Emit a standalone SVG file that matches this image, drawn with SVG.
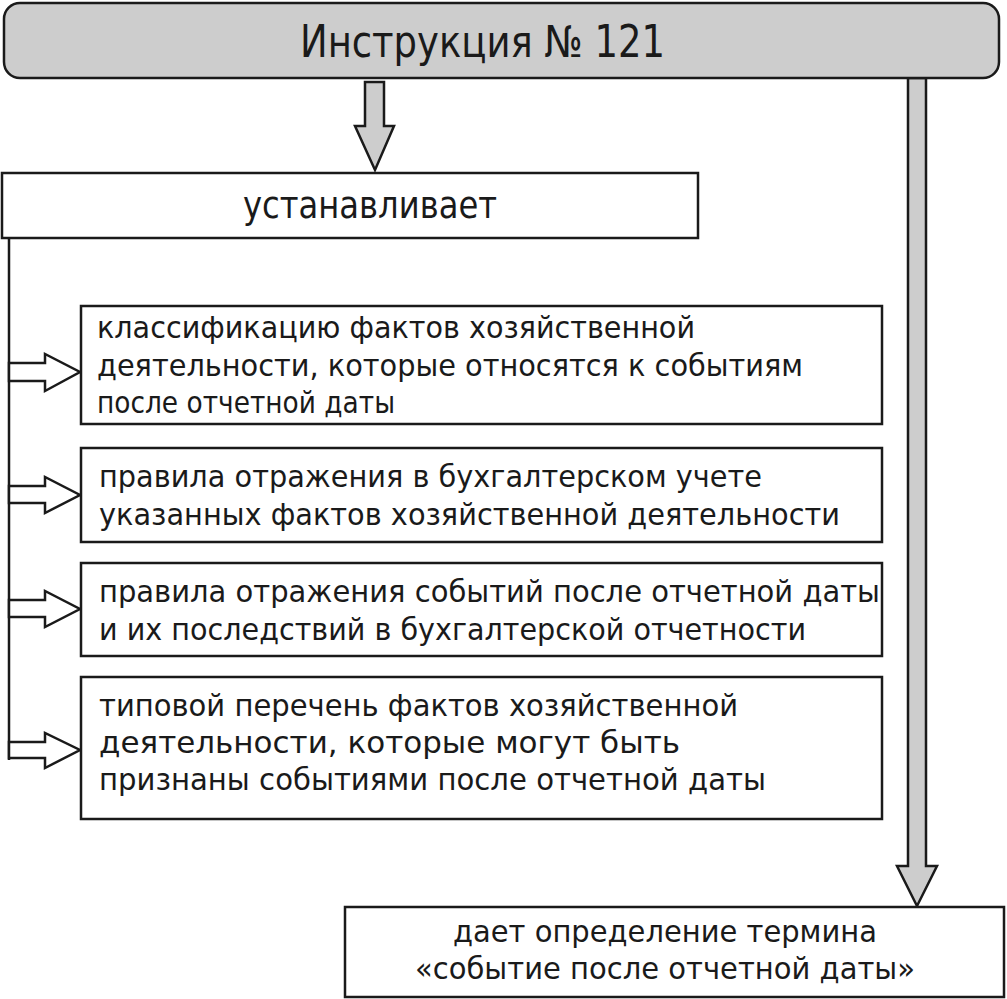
<svg xmlns="http://www.w3.org/2000/svg" width="1007" height="999" viewBox="0 0 1007 999">
<style>
.box{fill:#fff;stroke:#1a1a1a;stroke-width:2.5}
.gray{fill:#cdcdcd;stroke:#1a1a1a;stroke-width:2.5}
.t{font-family:"DejaVu Sans","Noto Sans",sans-serif;font-size:30px;fill:#1a1a1a}
.h{font-family:"DejaVu Sans Condensed","DejaVu Sans",sans-serif;fill:#1a1a1a}
.hollow{fill:#fff;stroke:#1a1a1a;stroke-width:2.5;stroke-linejoin:miter}
</style>
<rect width="1007" height="999" fill="#fff"/>
<g id="connectors">
<polygon class="gray" points="365,82 384,82 384,126 394,126 375,170 355,126 365,126"/>
<polygon class="gray" points="908,78 926,78 926,866 937,866 917,906 897,866 908,866"/>
<line x1="9" y1="238" x2="9" y2="760" stroke="#1a1a1a" stroke-width="2.5"/>
<polygon class="hollow" points="9,363 45,363 45,354 80,372 45,391 45,381 9,381"/>
<polygon class="hollow" points="9,486 45,486 45,477 80,495 45,513 45,503 9,503"/>
<polygon class="hollow" points="9,600 45,600 45,591 80,609 45,627 45,617 9,617"/>
<polygon class="hollow" points="9,742 45,742 45,733 80,750 45,768 45,758 9,758"/>
</g>
<g id="n-title">
<rect class="gray" x="4" y="3" width="995" height="75" rx="16"/>
<text class="h" x="300" y="57" font-size="44" textLength="365" lengthAdjust="spacingAndGlyphs">Инструкция № 121</text>
</g>
<g id="n-ustan">
<rect class="box" x="2" y="173" width="696" height="65"/>
<text class="h" x="243" y="218" font-size="37" textLength="254" lengthAdjust="spacingAndGlyphs">устанавливает</text>
</g>
<g id="n-b1">
<rect class="box" x="81" y="306" width="801" height="118"/>
<text class="t" x="97" y="338" textLength="598" lengthAdjust="spacingAndGlyphs">классификацию фактов хозяйственной</text>
<text class="t" x="97" y="376" textLength="706" lengthAdjust="spacingAndGlyphs">деятельности, которые относятся к событиям</text>
<text class="t" x="97" y="413" textLength="298" lengthAdjust="spacingAndGlyphs">после отчетной даты</text>
</g>
<g id="n-b2">
<rect class="box" x="81" y="448" width="801" height="94"/>
<text class="t" x="99" y="487" textLength="663" lengthAdjust="spacingAndGlyphs">правила отражения в бухгалтерском учете</text>
<text class="t" x="99" y="525" textLength="741" lengthAdjust="spacingAndGlyphs">указанных фактов хозяйственной деятельности</text>
</g>
<g id="n-b3">
<rect class="box" x="81" y="563" width="801" height="93"/>
<text class="t" x="99" y="602" textLength="781" lengthAdjust="spacingAndGlyphs">правила отражения событий после отчетной даты</text>
<text class="t" x="99" y="640" textLength="707" lengthAdjust="spacingAndGlyphs">и их последствий в бухгалтерской отчетности</text>
</g>
<g id="n-b4">
<rect class="box" x="81" y="677" width="801" height="142"/>
<text class="t" x="99" y="716" textLength="639" lengthAdjust="spacingAndGlyphs">типовой перечень фактов хозяйственной</text>
<text class="t" x="99" y="753" textLength="581" lengthAdjust="spacingAndGlyphs">деятельности, которые могут быть</text>
<text class="t" x="99" y="790" textLength="667" lengthAdjust="spacingAndGlyphs">признаны событиями после отчетной даты</text>
</g>
<g id="n-def">
<rect class="box" x="345" y="907" width="659" height="90"/>
<text class="t" x="453" y="942" textLength="424" lengthAdjust="spacingAndGlyphs">дает определение термина</text>
<text class="t" x="415" y="979" textLength="500" lengthAdjust="spacingAndGlyphs">«событие после отчетной даты»</text>
</g>
</svg>
